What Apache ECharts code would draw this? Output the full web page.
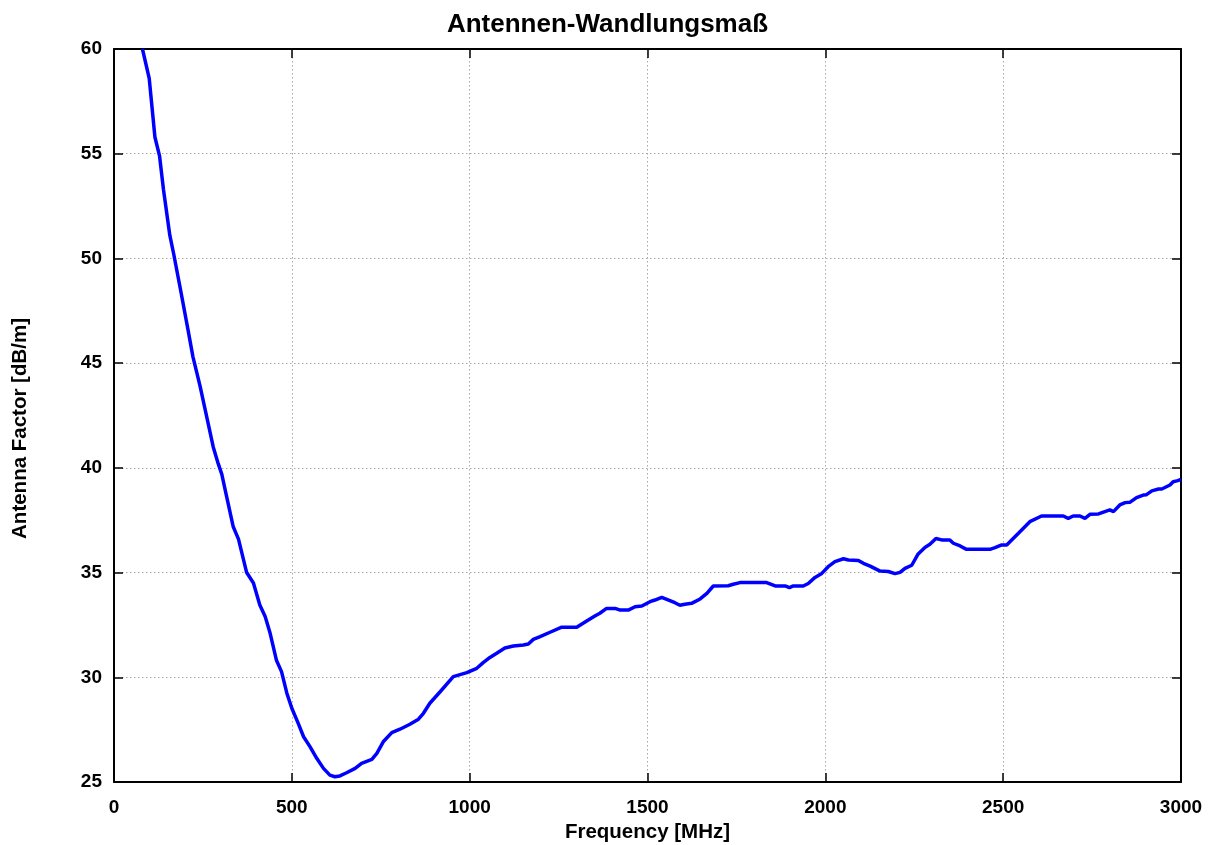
<!DOCTYPE html>
<html>
<head>
<meta charset="utf-8">
<script src="https://cdn.jsdelivr.net/npm/echarts@6/dist/echarts.min.js"></script>
<style>html,body{margin:0;padding:0;background:#fff;}#chart{width:1215px;height:845px;}</style>
</head>
<body>
<div id="chart"></div>
<script>
const titleText = 'Antennen-Wandlungsmaß';
const xName = 'Frequency [MHz]';
const yName = 'Antenna Factor [dB/m]';
const freq = [80,99,115,128,139,157,168,186,208,222,242,256,279,293,303,317,335,350,373,392,410,425,439,457,471,486,500,518,533,551,570,589,607,621,635,654,678,696,725,739,757,781,804,832,856,870,888,917,954,992,1020,1038,1057,1076,1099,1123,1151,1165,1179,1198,1226,1259,1301,1329,1352,1366,1385,1409,1423,1446,1465,1484,1507,1521,1540,1563,1577,1591,1605,1624,1648,1667,1685,1727,1741,1760,1835,1859,1887,1899,1910,1938,1952,1971,1990,2008,2027,2051,2065,2093,2107,2126,2154,2177,2196,2210,2224,2243,2261,2280,2294,2311,2327,2350,2360,2379,2397,2463,2477,2496,2510,2543,2575,2608,2669,2683,2697,2716,2730,2744,2768,2786,2800,2810,2828,2843,2857,2875,2894,2903,2918,2937,2946,2969,2978,2991,3000];
const factor = [60.0,58.6,55.8,54.9,53.3,51.1,50.2,48.6,46.6,45.3,43.9,42.8,41.0,40.2,39.7,38.6,37.2,36.6,35.0,34.5,33.45,32.9,32.1,30.8,30.27,29.24,28.52,27.8,27.16,26.69,26.13,25.65,25.33,25.25,25.29,25.44,25.65,25.89,26.08,26.37,26.92,27.36,27.52,27.76,28.0,28.28,28.76,29.31,30.03,30.22,30.43,30.7,30.95,31.15,31.4,31.49,31.54,31.59,31.81,31.94,32.15,32.39,32.39,32.69,32.93,33.06,33.29,33.29,33.21,33.21,33.37,33.4,33.61,33.69,33.82,33.66,33.56,33.44,33.49,33.53,33.74,34.01,34.36,34.37,34.44,34.52,34.52,34.36,34.36,34.28,34.36,34.36,34.48,34.77,34.96,35.28,35.52,35.66,35.6,35.58,35.44,35.31,35.07,35.05,34.95,35.01,35.2,35.35,35.89,36.2,36.35,36.63,36.56,36.56,36.4,36.27,36.11,36.11,36.19,36.32,36.32,36.88,37.43,37.7,37.7,37.59,37.7,37.7,37.59,37.78,37.8,37.91,37.99,37.91,38.23,38.34,38.36,38.58,38.7,38.72,38.9,38.99,38.99,39.18,39.34,39.39,39.45];
const xTicks = [0,500,1000,1500,2000,2500,3000];
const yTicks = [25,30,35,40,45,50,55,60];

const data = freq.map((f, i) => [f, factor[i]]);
const font = 'Liberation Sans, Arial, sans-serif';
const chart = echarts.init(document.getElementById('chart'), null, {renderer: 'canvas'});
const baseAxis = {
  axisLine: {show: true, onZero: false, lineStyle: {color: '#000', width: 2}},
  axisTick: {show: true, inside: true, length: 9, lineStyle: {color: '#000', width: 1.5}},
  splitLine: {show: false}
};
const gridLine = {show: true, lineStyle: {color: '#a8a8a8', type: [1.5, 2.5], width: 1}};
chart.setOption({
  animation: false,
  backgroundColor: '#fff',
  title: {text: titleText, left: 'center', top: 7, textStyle: {fontFamily: font, fontSize: 26, fontWeight: 'bold', color: '#000'}},
  grid: {left: 114, right: 34, top: 49, bottom: 63, containLabel: false, outerBoundsMode: 'none'},
  graphic: [{
    type: 'text', left: 10, top: 318, rotation: Math.PI / 2,
    style: {text: yName, fontFamily: font, fontSize: 20.5, fontWeight: 'bold', fill: '#000'}
  }],
  xAxis: [
    Object.assign({}, baseAxis, {
      type: 'value', min: xTicks[0], max: xTicks[xTicks.length-1], interval: 500, position: 'bottom',
      name: xName, nameLocation: 'middle', nameGap: 40,
      nameTextStyle: {fontFamily: font, fontSize: 20.5, fontWeight: 'bold', color: '#000'},
      axisLabel: {fontFamily: font, fontSize: 19, fontWeight: 'bold', color: '#000', margin: 16, formatter: v => String(v)},
      splitLine: gridLine
    }),
    Object.assign({}, baseAxis, {
      type: 'value', min: xTicks[0], max: xTicks[xTicks.length-1], interval: 500, position: 'top',
      axisLabel: {show: false}
    })
  ],
  yAxis: [
    Object.assign({}, baseAxis, {
      type: 'value', min: yTicks[0], max: yTicks[yTicks.length-1], interval: 5, position: 'left',
      axisLabel: {fontFamily: font, fontSize: 19, fontWeight: 'bold', color: '#000', margin: 12, formatter: v => String(v)},
      splitLine: gridLine
    }),
    Object.assign({}, baseAxis, {
      type: 'value', min: yTicks[0], max: yTicks[yTicks.length-1], interval: 5, position: 'right',
      axisLabel: {show: false}
    })
  ],
  series: [{
    type: 'line', data: data, xAxisIndex: 0, yAxisIndex: 0,
    showSymbol: false, symbol: 'none', smooth: false, clip: true,
    lineStyle: {color: '#0000ff', width: 3.5}
  }]
});
</script>
</body>
</html>
